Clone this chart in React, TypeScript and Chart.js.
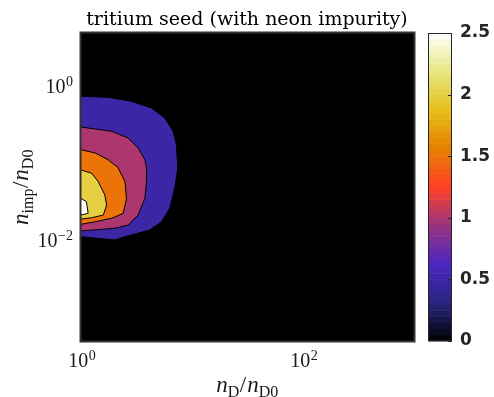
import React, { useEffect, useRef } from 'react';
import { Chart, registerables } from 'chart.js';

Chart.register(...registerables);

// ---- text ----
const TITLE = 'tritium seed (with neon impurity)';

// ---- axes ----
const X_MIN = 1;
const X_MAX = 1000;
const Y_MIN = Math.pow(10, -3.3);
const Y_MAX = Math.pow(10, 0.7);
const X_TICKS = [1, 100];
const X_TICK_EXP = ['0', '2'];
const Y_TICKS = [0.01, 1];
const Y_TICK_EXP = ['−2', '0'];
const CB_MIN = 0;
const CB_MAX = 2.5;
const CB_TICKS = [0, 0.5, 1, 1.5, 2, 2.5];

// ---- contour levels and their boundaries (data coordinates) ----
const LEVELS = [0.5, 1, 1.5, 2, 2.5];

const level05X = [1, 1.75, 2.85, 4.32, 5.68, 6.75, 7.24, 7.44, 6.99, 6.3, 5.31, 4.17, 2.49, 2.02, 1];
const level05Y = [0.755, 0.733, 0.65, 0.532, 0.395, 0.265, 0.177, 0.0885, 0.0482, 0.0265, 0.01775, 0.01386, 0.01135, 0.01028, 0.01135];

const level10X = [1, 1.34, 1.89, 2.66, 3.27, 3.76, 3.89, 3.89, 3.76, 3.27, 2.66, 2.02, 1];
const level10Y = [0.301, 0.284, 0.265, 0.217, 0.161, 0.1135, 0.0885, 0.0588, 0.0357, 0.0217, 0.01607, 0.01458, 0.01346];

const level15X = [1, 1.34, 1.75, 2.15, 2.49, 2.57, 2.4, 1.89, 1.34, 1];
const level15Y = [0.153, 0.1387, 0.1135, 0.09, 0.0588, 0.0357, 0.0228, 0.01967, 0.01775, 0.01644];

const level20X = [1, 1.25, 1.43, 1.64, 1.7, 1.59, 1.25, 1];
const level20Y = [0.0834, 0.0755, 0.0588, 0.0394, 0.0292, 0.0217, 0.02, 0.01923];

const level25X = [1, 1.12, 1.16, 1];
const level25Y = [0.0357, 0.0323, 0.0228, 0.0217];

const CONTOUR_X = [level05X, level10X, level15X, level20X, level25X];
const CONTOUR_Y = [level05Y, level10Y, level15Y, level20Y, level25Y];

// ---- colormap (CMRmap nodes) ----
const CMAP_POS = [0, 0.125, 0.25, 0.375, 0.5, 0.625, 0.75, 0.875, 1];
const CMAP_R = [0, 0.15, 0.3, 0.6, 1, 0.9, 0.9, 0.9, 1];
const CMAP_G = [0, 0.15, 0.15, 0.2, 0.25, 0.5, 0.75, 0.9, 1];
const CMAP_B = [0, 0.5, 0.75, 0.5, 0.15, 0, 0.1, 0.5, 1];
const CB_STEPS = 50;

function cmap(t: number): string {
  const u = Math.max(0, Math.min(1, t));
  let i = 0;
  while (i < CMAP_POS.length - 2 && u > CMAP_POS[i + 1]) i++;
  const f = (u - CMAP_POS[i]) / (CMAP_POS[i + 1] - CMAP_POS[i]);
  const c = (arr: number[]) => Math.round(255 * (arr[i] + f * (arr[i + 1] - arr[i])));
  return `rgb(${c(CMAP_R)},${c(CMAP_G)},${c(CMAP_B)})`;
}

type Part = [string, 'i' | 'r' | 's'];
const X_LABEL: Part[] = [['n', 'i'], ['D', 's'], ['/', 'r'], ['n', 'i'], ['D0', 's']];
const Y_LABEL: Part[] = [['n', 'i'], ['imp', 's'], ['/', 'r'], ['n', 'i'], ['D0', 's']];

const SERIF = '"Liberation Serif", "DejaVu Serif", serif';
const TEXT_COLOR = '#1a1a1a';

function partFont(k: string) {
  if (k === 'i') return `italic 23px ${SERIF}`;
  if (k === 's') return `16px ${SERIF}`;
  return `23px ${SERIF}`;
}

function drawMath(ctx: CanvasRenderingContext2D, parts: Part[], x: number, y: number, angle: number) {
  ctx.save();
  let total = 0;
  const widths = parts.map(([t, k]) => {
    ctx.font = partFont(k);
    const w = ctx.measureText(t).width + (k === 'r' ? 1 : 0) + (k === 's' ? 0.5 : 0);
    total += w;
    return w;
  });
  ctx.translate(x, y);
  ctx.rotate(angle);
  ctx.fillStyle = TEXT_COLOR;
  ctx.textBaseline = 'alphabetic';
  ctx.textAlign = 'left';
  let cx = -total / 2;
  parts.forEach(([t, k], i) => {
    ctx.font = partFont(k);
    ctx.fillText(t, cx, k === 's' ? 4.5 : 0);
    cx += widths[i];
  });
  ctx.restore();
}

// power-of-ten label: returns width, draws if draw=true; anchor at left x, baseline y
function powerLabel(ctx: CanvasRenderingContext2D, exp: string, x: number, y: number, draw: boolean) {
  ctx.font = `20px ${SERIF}`;
  const wb = ctx.measureText('10').width;
  ctx.font = `14px ${SERIF}`;
  const we = ctx.measureText(exp).width;
  if (draw) {
    ctx.fillStyle = TEXT_COLOR;
    ctx.textBaseline = 'alphabetic';
    ctx.textAlign = 'left';
    ctx.font = `20px ${SERIF}`;
    ctx.fillText('10', x, y);
    ctx.font = `14px ${SERIF}`;
    ctx.fillText(exp, x + wb + 0.5, y - 7.5);
  }
  return wb + we + 0.5;
}

const contourPlugin = {
  id: 'contourPlugin',
  beforeDatasetsDraw(chart: any) {
    const { ctx, chartArea: a } = chart;
    ctx.save();
    ctx.fillStyle = '#000';
    ctx.fillRect(a.left, a.top, a.right - a.left, a.bottom - a.top);
    ctx.beginPath();
    ctx.rect(a.left, a.top, a.right - a.left, a.bottom - a.top);
    ctx.clip();
    chart.data.datasets.forEach((ds: any, i: number) => {
      const pts = chart.getDatasetMeta(i).data;
      if (!pts.length) return;
      ctx.beginPath();
      pts.forEach((p: any, j: number) => (j ? ctx.lineTo(p.x, p.y) : ctx.moveTo(p.x, p.y)));
      ctx.closePath();
      ctx.fillStyle = ds.backgroundColor;
      ctx.fill();
    });
    ctx.restore();
  },
  afterDraw(chart: any) {
    const { ctx, chartArea: a } = chart;
    ctx.save();
    // axes box
    ctx.strokeStyle = '#333333';
    ctx.lineWidth = 2;
    ctx.strokeRect(a.left - 0.5, a.top - 0.5, a.right - a.left + 1, a.bottom - a.top + 1);

    // tick labels (powers of ten)
    const xs = chart.scales.x;
    X_TICKS.forEach((v, i) => {
      const px = xs.getPixelForValue(v);
      const w = powerLabel(ctx, X_TICK_EXP[i], 0, 0, false);
      powerLabel(ctx, X_TICK_EXP[i], px - w / 2 + 1, a.bottom + 26, true);
    });
    const ys = chart.scales.y;
    Y_TICKS.forEach((v, i) => {
      const py = ys.getPixelForValue(v);
      const w = powerLabel(ctx, Y_TICK_EXP[i], 0, 0, false);
      powerLabel(ctx, Y_TICK_EXP[i], a.left - 8 - w, py + 6.5, true);
    });

    // colorbar
    const cb = chart.scales.cb;
    const bx = a.right + 14;
    const bw = 24;
    for (let i = 0; i < CB_STEPS; i++) {
      const v0 = CB_MIN + ((CB_MAX - CB_MIN) * i) / CB_STEPS;
      const v1 = CB_MIN + ((CB_MAX - CB_MIN) * (i + 1)) / CB_STEPS;
      const y0 = cb.getPixelForValue(v0);
      const y1 = cb.getPixelForValue(v1);
      ctx.fillStyle = cmap((i + 0.5) / CB_STEPS);
      ctx.fillRect(bx, y1, bw, y0 - y1 + 0.5);
    }
    const top = cb.getPixelForValue(CB_MAX);
    const bot = cb.getPixelForValue(CB_MIN);
    ctx.strokeStyle = '#262626';
    ctx.lineWidth = 1;
    ctx.strokeRect(bx + 0.5, top + 0.5, bw - 1, bot - top - 1);
    CB_TICKS.forEach((v) => {
      const y = Math.round(cb.getPixelForValue(v)) + 0.5;
      ctx.beginPath();
      ctx.moveTo(bx + bw - 4, y);
      ctx.lineTo(bx + bw, y);
      ctx.stroke();
    });
    ctx.restore();

    // axis labels
    drawMath(ctx, X_LABEL, (a.left + a.right) / 2, 392, 0);
    drawMath(ctx, Y_LABEL, 28, (a.top + a.bottom) / 2, -Math.PI / 2);
  },
};

export default function App() {
  const ref = useRef<HTMLCanvasElement | null>(null);

  useEffect(() => {
    if (!ref.current) return;
    const datasets = CONTOUR_X.map((xs, k) => ({
      label: `level ${LEVELS[k]}`,
      data: xs.map((x, j) => ({ x, y: CONTOUR_Y[k][j] })),
      backgroundColor: cmap(LEVELS[k] / CB_MAX),
      borderColor: '#000000',
      borderWidth: 1,
      pointRadius: 0,
      showLine: true,
      fill: false,
      tension: 0,
      xAxisID: 'x',
      yAxisID: 'y',
    }));

    const zeroPad = (s: any) => {
      s.paddingTop = 0;
      s.paddingBottom = 0;
    };

    const chart = new Chart(ref.current, {
      type: 'scatter',
      data: { datasets },
      options: {
        animation: false,
        responsive: false,
        events: [],
        layout: { padding: 0 },
        plugins: {
          legend: { display: false },
          tooltip: { enabled: false },
          title: {
            display: true,
            text: TITLE,
            color: '#000000',
            font: { family: '"DejaVu Serif", serif', size: 19, weight: 'normal', lineHeight: 1.2 },
            padding: { top: 9, bottom: 1.2 },
          },
        },
        scales: {
          x: {
            type: 'logarithmic',
            position: 'bottom',
            min: X_MIN,
            max: X_MAX,
            grid: { display: false },
            border: { display: false },
            ticks: { display: false },
            afterBuildTicks: (s: any) => {
              s.ticks = X_TICKS.map((value) => ({ value }));
            },
            afterFit: (s: any) => {
              s.height = 56;
              s.paddingLeft = 0;
              s.paddingRight = 0;
            },
          },
          y: {
            type: 'logarithmic',
            position: 'left',
            min: Y_MIN,
            max: Y_MAX,
            grid: { display: false },
            border: { display: false },
            ticks: { display: false },
            afterBuildTicks: (s: any) => {
              s.ticks = Y_TICKS.map((value) => ({ value }));
            },
            afterFit: (s: any) => {
              s.width = 81;
              zeroPad(s);
            },
          },
          cb: {
            type: 'linear',
            position: 'right',
            min: CB_MIN,
            max: CB_MAX,
            grid: { display: false, drawTicks: false },
            border: { display: false },
            ticks: {
              stepSize: 0.5,
              padding: 46,
              color: '#262626',
              font: { family: '"DejaVu Sans", sans-serif', size: 17, weight: 'bold' },
              callback: (v: any) => String(v),
            },
            afterBuildTicks: (s: any) => {
              s.ticks = CB_TICKS.map((value) => ({ value }));
            },
            afterFit: (s: any) => {
              s.width = 80;
              zeroPad(s);
            },
          },
        },
      } as any,
      plugins: [contourPlugin],
    });
    return () => chart.destroy();
  }, []);

  return (
    <div style={{ position: 'fixed', left: 0, top: 0, width: 494, height: 397, background: '#fff' }}>
      <canvas ref={ref} width={494} height={397} style={{ display: 'block' }} />
    </div>
  );
}
